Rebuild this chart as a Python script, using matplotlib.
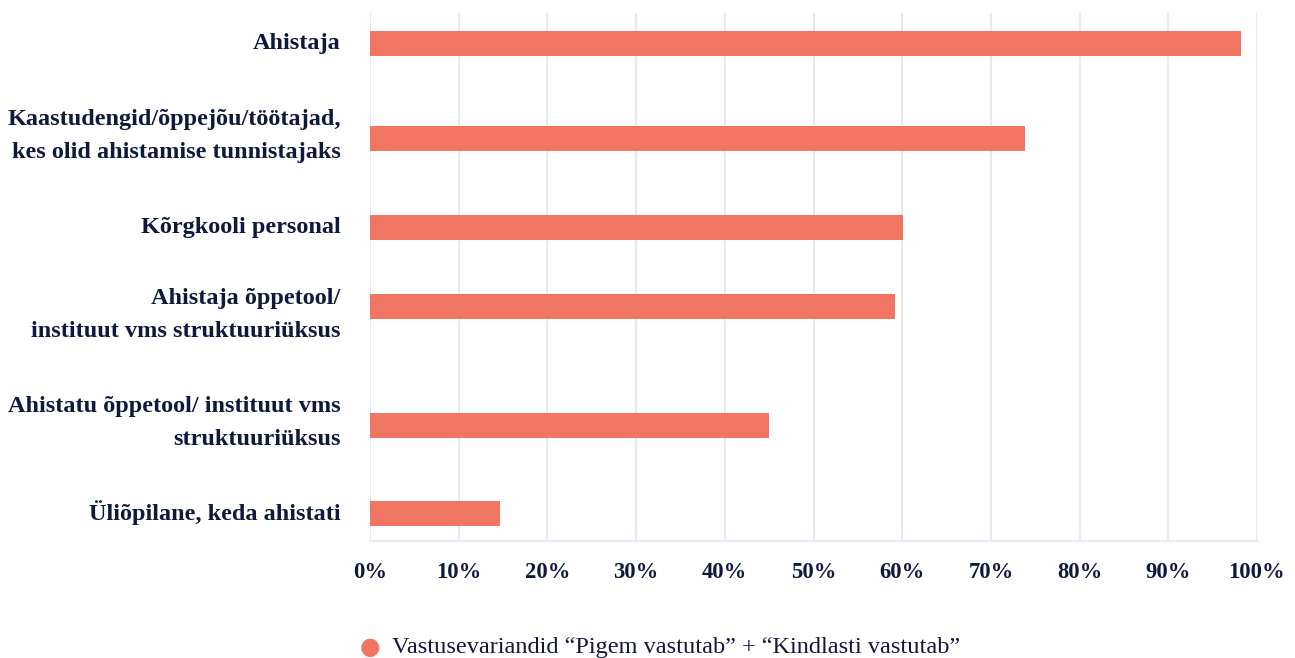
import matplotlib.pyplot as plt
from matplotlib.ticker import PercentFormatter

categories = [
    "Ahistaja",
    "Kaastudengid/õppejõu/töötajad,\nkes olid ahistamise tunnistajaks",
    "Kõrgkooli personal",
    "Ahistaja õppetool/\ninstituut vms struktuuriüksus",
    "Ahistatu õppetool/ instituut vms\nstruktuuriüksus",
    "Üliõpilane, keda ahistati",
]
values = [98.2, 73.8, 60.1, 59.2, 45.0, 14.7]
legend_label = "Vastusevariandid “Pigem vastutab” + “Kindlasti vastutab”"

# layout: rows are not evenly spaced in the original (pixel rows from top)
bar_rows = [43, 138, 227, 306, 425, 513]
label_rows = [43, 136, 227, 315, 423, 513]

bar_color = "#F07563"
text_color = "#0E1A3C"
grid_color = "#E6E9F1"

plt.rcParams['font.family'] = ['Liberation Serif', 'DejaVu Serif']

fig = plt.figure(figsize=(12.95, 6.58), dpi=100)
ax = fig.add_axes([370 / 1295, 1 - 541 / 658, (1257 - 370) / 1295, (541 - 13) / 658])

ax.barh(bar_rows, values, height=25, color=bar_color, zorder=3)
ax.set_xlim(0, 100)
ax.set_ylim(541, 13)

ax.set_xticks(range(0, 101, 10))
ax.xaxis.set_major_formatter(PercentFormatter(decimals=0))
ax.grid(axis='x', color=grid_color, linewidth=1.5, zorder=0)
ax.tick_params(axis='x', length=0, pad=15, labelsize=16.3, labelcolor=text_color)
for lbl in ax.get_xticklabels():
    lbl.set_fontweight('bold')

ax.set_yticks([])
for txt, y in zip(categories, label_rows):
    ax.text(-3.3, y, txt, ha='right', va='center',
            fontsize=17.5, fontweight='bold', color=text_color,
            linespacing=1.72, clip_on=False)

for side in ['top', 'right', 'left']:
    ax.spines[side].set_visible(False)
ax.spines['bottom'].set_color(grid_color)
ax.spines['bottom'].set_linewidth(1.5)

fig.text(370 / 1295, 1 - 647 / 658, "●", color=bar_color, fontsize=17,
         ha='center', va='center', family='DejaVu Sans')
fig.text(392 / 1295, 1 - 647 / 658, legend_label, color=text_color,
         fontsize=17.5, ha='left', va='center')

fig.savefig("out.png", dpi=100)
